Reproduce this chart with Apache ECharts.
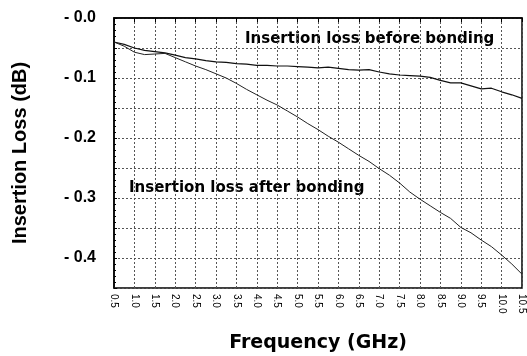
<!DOCTYPE html>
<html>
<head>
<meta charset="utf-8">
<script src="https://cdn.jsdelivr.net/npm/echarts@6/dist/echarts.min.js"></script>
<style>
  html, body { margin: 0; padding: 0; background: #fff; }
  #chart-1 { width: 527px; height: 356px; }
</style>
</head>
<body>
<div id="chart-1"></div>
<script>
// frequency points (GHz)
var freq = [0.5, 0.75, 1.0, 1.25, 1.5, 1.75, 2.0, 2.25, 2.5, 2.75, 3.0, 3.25, 3.5, 3.75,
  4.0, 4.25, 4.5, 4.75, 5.0, 5.25, 5.5, 5.75, 6.0, 6.25, 6.5, 6.75, 7.0, 7.25, 7.5, 7.75,
  8.0, 8.25, 8.5, 8.75, 9.0, 9.25, 9.5, 9.75, 10.0, 10.25, 10.5];

// insertion loss before bonding (dB)
var lossBefore = [-0.040, -0.044, -0.050, -0.054, -0.056, -0.058, -0.062, -0.066, -0.068, -0.071,
  -0.073, -0.074, -0.076, -0.077, -0.079, -0.079, -0.080, -0.080, -0.081, -0.082, -0.083, -0.082,
  -0.084, -0.086, -0.087, -0.086, -0.090, -0.093, -0.095, -0.096, -0.097, -0.099, -0.104, -0.108,
  -0.108, -0.113, -0.118, -0.117, -0.123, -0.128, -0.134];

// insertion loss after bonding (dB)
var lossAfter = [-0.040, -0.047, -0.057, -0.061, -0.060, -0.059, -0.066, -0.073, -0.080, -0.086,
  -0.093, -0.100, -0.109, -0.119, -0.128, -0.137, -0.145, -0.155, -0.165, -0.176, -0.186, -0.197,
  -0.207, -0.218, -0.229, -0.239, -0.251, -0.262, -0.275, -0.290, -0.302, -0.313, -0.324, -0.334,
  -0.349, -0.358, -0.370, -0.381, -0.395, -0.410, -0.427];

function pairs(xs, ys) {
  return xs.map(function (x, i) { return [x, ys[i]]; });
}

var dom = document.getElementById("chart-1");
var Chart1 = echarts.init(dom, null, { renderer: "canvas" });

var wideFont = "DejaVu Sans, Liberation Sans, sans-serif";
var narrowFont = "Liberation Sans, Arial, sans-serif";

var option = {
  animation: false,
  textStyle: { fontFamily: narrowFont },
  grid: {
    left: 114,
    right: 5,
    top: 18,
    bottom: 68,
    outerBoundsMode: "none",
    containLabel: false,
    show: true,
    borderColor: "#000",
    borderWidth: 1.5,
  },
  xAxis: {
    type: "value",
    min: 0.5,
    max: 10.5,
    interval: 0.5,
    name: "Frequency (GHz)",
    nameLocation: "middle",
    nameGap: 46,
    nameTextStyle: { fontSize: 19, fontWeight: "bold", color: "#000", fontFamily: wideFont },
    axisLine: { lineStyle: { color: "#000", width: 1.5 } },
    axisTick: { show: true, length: 4, lineStyle: { color: "#000" } },
    axisLabel: {
      rotate: -90,
      fontSize: 10,
      color: "#000",
      margin: 6,
      formatter: function (v) { return v.toFixed(1); },
    },
    splitLine: { show: true, lineStyle: { color: "#555", type: [2, 2], width: 1 } },
  },
  yAxis: {
    type: "value",
    min: -0.45,
    max: 0,
    interval: 0.05,
    name: "Insertion Loss (dB)",
    nameLocation: "middle",
    nameGap: 84,
    nameTextStyle: { fontSize: 20, fontWeight: "bold", color: "#000", fontFamily: narrowFont },
    axisLine: { show: true, lineStyle: { color: "#000", width: 1.5 } },
    axisTick: { show: true, inside: true, length: 3, lineStyle: { color: "#000" } },
    minorTick: { show: true, splitNumber: 5, length: 2, lineStyle: { color: "#000" } },
    axisLabel: {
      fontSize: 16,
      fontWeight: "bold",
      color: "#000",
      margin: 18,
      formatter: function (v) {
        var n = Math.round(-v * 100);
        if (n % 10 !== 0) return "";
        return "- " + (n / 100).toFixed(1);
      },
    },
    splitLine: { show: true, lineStyle: { color: "#555", type: [2, 2], width: 1 } },
  },
  series: [
    {
      name: "Insertion loss before bonding",
      type: "line",
      showSymbol: false,
      lineStyle: { color: "#111", width: 1.2 },
      data: pairs(freq, lossBefore),
    },
    {
      name: "Insertion loss after bonding",
      type: "line",
      showSymbol: false,
      lineStyle: { color: "#222", width: 1 },
      data: pairs(freq, lossAfter),
    },
  ],
  graphic: [
    {
      type: "text",
      left: 245,
      top: 32,
      style: { text: "Insertion loss before bonding", font: "bold 15px " + wideFont, fill: "#000" },
    },
    {
      type: "text",
      left: 129,
      top: 181,
      style: { text: "Insertion loss after bonding", font: "bold 15px " + wideFont, fill: "#000" },
    },
  ],
};

if (option && typeof option === "object") {
  Chart1.setOption(option);
}

window.addEventListener("resize", Chart1.resize);
</script>
</body>
</html>
